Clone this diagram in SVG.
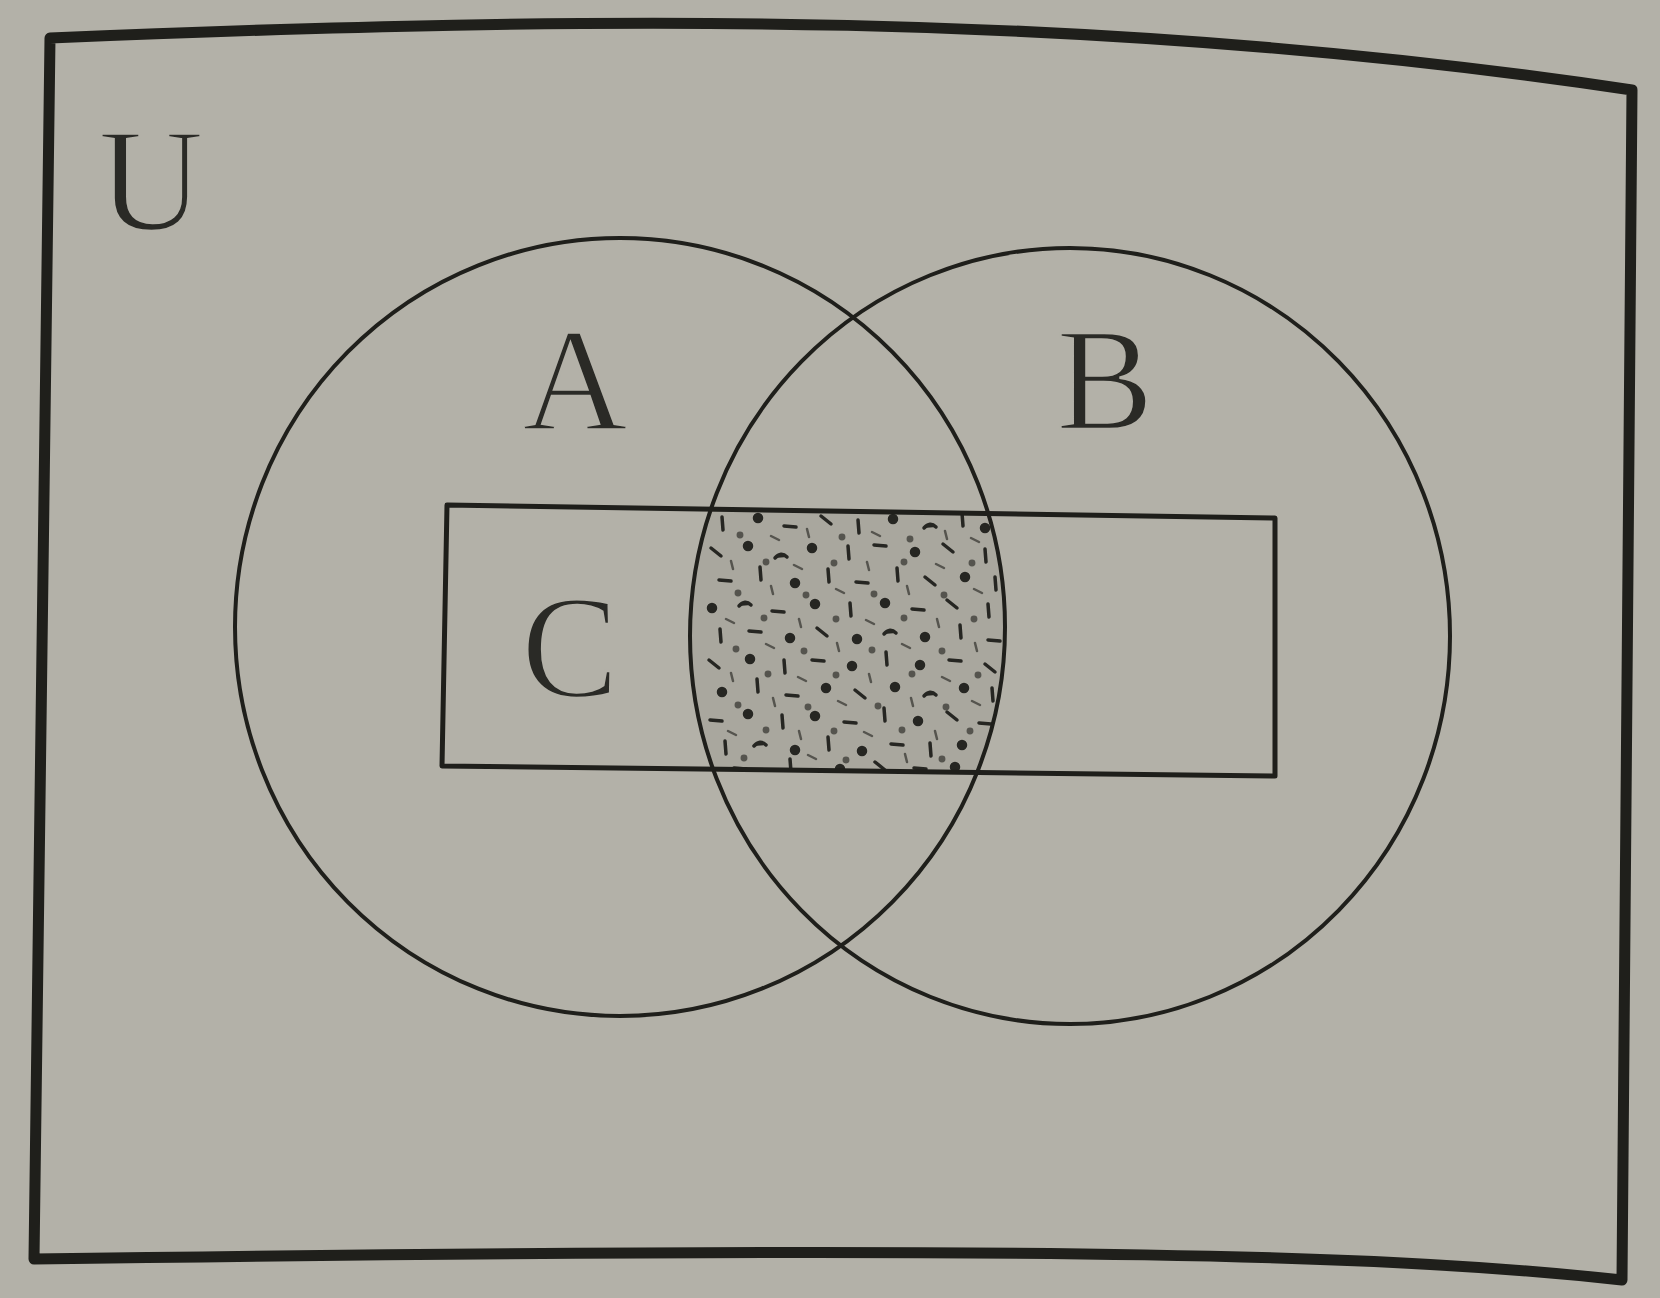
<svg xmlns="http://www.w3.org/2000/svg" xmlns:xlink="http://www.w3.org/1999/xlink" width="1660" height="1298" viewBox="0 0 1660 1298">
  <style>
    .ink { fill: none; stroke: #1f1f1b; stroke-linejoin: round; stroke-linecap: round; }
    .frame { stroke-width: 11; }
    .circle { stroke-width: 4; }
    .rect { stroke-width: 5; }
    .label { font-family: "Liberation Serif", "DejaVu Serif", serif; font-size: 146px; fill: #2a2a26; stroke: #b3b1a8; stroke-width: 2.5; text-anchor: middle; }
    .speck { fill: #262622; stroke: #262622; stroke-width: 3.5; stroke-linecap: round; }
    .fine { fill: #55544e; stroke: #55544e; stroke-width: 2.5; stroke-linecap: round; }
  </style>
  <defs>
    <clipPath id="shadeClip">
      <ellipse cx="620" cy="627" rx="385" ry="389"/>
    </clipPath>
    <clipPath id="shadeClipB">
      <ellipse cx="1070" cy="636" rx="380" ry="388"/>
    </clipPath>
    <clipPath id="shadeClipC">
      <polygon points="447,505 1275,518 1275,776 442,766"/>
    </clipPath>
    <circle id="s1" r="3.5" class="speck"/>
    <path id="s2" d="M-6,0 L6,1" class="speck"/>
    <path id="s3" d="M0,-7 L1,6" class="speck"/>
    <path id="s4" d="M-5,-4 L5,4" class="speck"/>
    <path id="s5" d="M-6,3 Q0,-4 6,2" class="speck" fill="none"/>
    <circle id="f1" r="2.2" class="fine"/>
    <path id="f2" d="M-4,-2 L4,2" class="fine"/>
    <path id="f3" d="M-1,-4 L1,4" class="fine"/>
  </defs>

  <rect width="1660" height="1298" fill="#b3b1a8"/>

  <g id="universe-U">
    <path class="ink frame" d="M50,38 C600,15 1100,10 1632,90 L1622,1280 C1400,1256 1100,1244 34,1259 Z"/>
    <text class="label" x="151" y="230">U</text>
  </g>

  <g id="shaded-region">
    <g clip-path="url(#shadeClip)">
      <g clip-path="url(#shadeClipB)">
        <g clip-path="url(#shadeClipC)">
          <rect x="680" y="500" width="340" height="285" fill="#a9a79e"/>
          <use href="#f1" x="740" y="535"/><use href="#f2" x="775" y="538"/><use href="#f3" x="808" y="533"/><use href="#f1" x="842" y="537"/><use href="#f2" x="876" y="534"/><use href="#f1" x="910" y="539"/><use href="#f3" x="946" y="535"/><use href="#f2" x="975" y="540"/>
          <use href="#f3" x="732" y="565"/><use href="#f1" x="766" y="562"/><use href="#f2" x="798" y="567"/><use href="#f1" x="834" y="563"/><use href="#f3" x="868" y="566"/><use href="#f1" x="904" y="562"/><use href="#f2" x="940" y="566"/><use href="#f1" x="972" y="563"/>
          <use href="#f1" x="738" y="593"/><use href="#f3" x="772" y="590"/><use href="#f1" x="806" y="595"/><use href="#f2" x="840" y="591"/><use href="#f1" x="874" y="594"/><use href="#f3" x="908" y="590"/><use href="#f1" x="944" y="595"/><use href="#f2" x="978" y="591"/>
          <use href="#f2" x="730" y="621"/><use href="#f1" x="764" y="618"/><use href="#f3" x="800" y="623"/><use href="#f1" x="836" y="619"/><use href="#f2" x="870" y="622"/><use href="#f1" x="904" y="618"/><use href="#f3" x="938" y="623"/><use href="#f1" x="974" y="619"/>
          <use href="#f1" x="736" y="649"/><use href="#f2" x="770" y="646"/><use href="#f1" x="804" y="651"/><use href="#f3" x="838" y="647"/><use href="#f1" x="872" y="650"/><use href="#f2" x="906" y="646"/><use href="#f1" x="942" y="651"/><use href="#f3" x="976" y="647"/>
          <use href="#f3" x="732" y="677"/><use href="#f1" x="768" y="674"/><use href="#f2" x="802" y="679"/><use href="#f1" x="836" y="675"/><use href="#f3" x="870" y="678"/><use href="#f1" x="912" y="674"/><use href="#f2" x="946" y="679"/><use href="#f1" x="978" y="675"/>
          <use href="#f1" x="738" y="705"/><use href="#f3" x="774" y="702"/><use href="#f1" x="808" y="707"/><use href="#f2" x="842" y="703"/><use href="#f1" x="878" y="706"/><use href="#f3" x="912" y="702"/><use href="#f1" x="946" y="707"/><use href="#f2" x="976" y="703"/>
          <use href="#f2" x="732" y="733"/><use href="#f1" x="766" y="730"/><use href="#f3" x="800" y="735"/><use href="#f1" x="834" y="731"/><use href="#f2" x="868" y="734"/><use href="#f1" x="902" y="730"/><use href="#f3" x="936" y="735"/><use href="#f1" x="970" y="731"/>
          <use href="#f1" x="744" y="758"/><use href="#f2" x="812" y="757"/><use href="#f1" x="846" y="760"/><use href="#f3" x="906" y="758"/><use href="#f1" x="942" y="759"/>

          <use href="#s3" x="722" y="524"/><use href="#s1" x="758" y="518"/><use href="#s2" x="790" y="526"/><use href="#s4" x="826" y="520"/><use href="#s3" x="858" y="527"/><use href="#s1" x="893" y="519"/><use href="#s5" x="930" y="525"/><use href="#s3" x="962" y="520"/><use href="#s1" x="985" y="528"/>
          <use href="#s4" x="716" y="552"/><use href="#s1" x="748" y="546"/><use href="#s5" x="781" y="555"/><use href="#s1" x="812" y="548"/><use href="#s3" x="848" y="553"/><use href="#s2" x="880" y="545"/><use href="#s1" x="915" y="552"/><use href="#s4" x="948" y="548"/><use href="#s3" x="985" y="556"/>
          <use href="#s2" x="725" y="580"/><use href="#s3" x="760" y="574"/><use href="#s1" x="795" y="583"/><use href="#s3" x="828" y="576"/><use href="#s2" x="862" y="582"/><use href="#s3" x="897" y="575"/><use href="#s4" x="930" y="581"/><use href="#s1" x="965" y="577"/><use href="#s3" x="995" y="584"/>
          <use href="#s1" x="712" y="608"/><use href="#s5" x="745" y="603"/><use href="#s2" x="778" y="611"/><use href="#s1" x="815" y="604"/><use href="#s3" x="850" y="610"/><use href="#s1" x="885" y="603"/><use href="#s2" x="918" y="609"/><use href="#s4" x="952" y="604"/><use href="#s3" x="988" y="611"/>
          <use href="#s3" x="720" y="636"/><use href="#s2" x="755" y="631"/><use href="#s1" x="790" y="638"/><use href="#s4" x="822" y="632"/><use href="#s1" x="857" y="639"/><use href="#s5" x="890" y="631"/><use href="#s1" x="925" y="637"/><use href="#s3" x="960" y="632"/><use href="#s2" x="994" y="640"/>
          <use href="#s4" x="714" y="664"/><use href="#s1" x="750" y="659"/><use href="#s3" x="784" y="667"/><use href="#s2" x="818" y="660"/><use href="#s1" x="852" y="666"/><use href="#s3" x="886" y="659"/><use href="#s1" x="920" y="665"/><use href="#s2" x="955" y="660"/><use href="#s4" x="990" y="668"/>
          <use href="#s1" x="722" y="692"/><use href="#s3" x="757" y="686"/><use href="#s2" x="792" y="695"/><use href="#s1" x="826" y="688"/><use href="#s4" x="860" y="694"/><use href="#s1" x="895" y="687"/><use href="#s5" x="930" y="693"/><use href="#s1" x="964" y="688"/><use href="#s3" x="992" y="695"/>
          <use href="#s2" x="716" y="720"/><use href="#s1" x="748" y="714"/><use href="#s3" x="782" y="722"/><use href="#s1" x="815" y="716"/><use href="#s2" x="850" y="722"/><use href="#s3" x="884" y="715"/><use href="#s1" x="918" y="721"/><use href="#s4" x="952" y="716"/><use href="#s2" x="985" y="723"/>
          <use href="#s3" x="725" y="748"/><use href="#s5" x="760" y="743"/><use href="#s1" x="795" y="750"/><use href="#s3" x="828" y="744"/><use href="#s1" x="862" y="751"/><use href="#s2" x="897" y="744"/><use href="#s3" x="930" y="750"/><use href="#s1" x="962" y="745"/>
          <use href="#s2" x="740" y="768"/><use href="#s3" x="790" y="766"/><use href="#s1" x="840" y="769"/><use href="#s4" x="880" y="766"/><use href="#s2" x="920" y="768"/><use href="#s1" x="955" y="767"/>
        </g>
      </g>
    </g>
  </g>

  <g id="set-A">
    <ellipse class="ink circle" cx="620" cy="627" rx="385" ry="389"/>
    <text class="label" x="575" y="429">A</text>
  </g>

  <g id="set-B">
    <ellipse class="ink circle" cx="1070" cy="636" rx="380" ry="388"/>
    <text class="label" x="1105" y="429">B</text>
  </g>

  <g id="set-C">
    <polygon class="ink rect" points="447,505 1275,518 1275,776 442,766"/>
    <text class="label" x="570" y="697">C</text>
  </g>
</svg>
